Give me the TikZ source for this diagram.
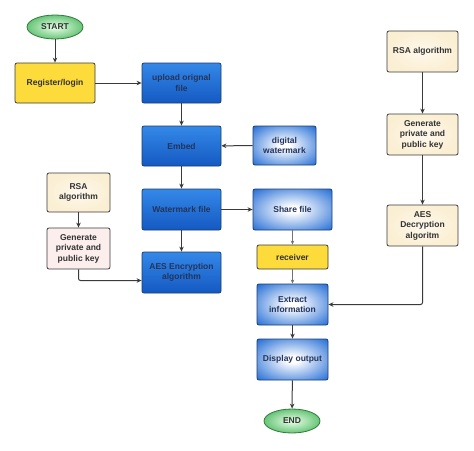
\documentclass[tikz,border=0pt]{standalone}
\usepackage{fontspec}
\setmainfont{Liberation Sans}
\usepackage{tikz}
\usetikzlibrary{shapes.geometric,arrows.meta}

\definecolor{bluetop}{HTML}{3488E8}
\definecolor{bluebot}{HTML}{1459C2}
\definecolor{blueedge}{HTML}{1F6AD5}
\definecolor{blueline}{HTML}{1B3C70}
\definecolor{bluetext}{HTML}{24345A}
\definecolor{yellowbox}{HTML}{FCDB3A}
\definecolor{beigebox}{HTML}{FBEFD3}
\definecolor{pinkbox}{HTML}{FCEEEC}
\definecolor{greenedge}{HTML}{68C577}
\definecolor{greenline}{HTML}{2F7A3B}
\definecolor{darkline}{HTML}{3A3A3A}

% white glow in the middle, blue at the rim
\pgfdeclareradialshading{blueglow}{\pgfpoint{0bp}{0bp}}{color(0bp)=(white); color(4bp)=(white); color(36bp)=(blueedge); color(50bp)=(blueedge)}

\tikzset{
    basebox/.style={rectangle, rounded corners=2pt, inner sep=0pt, align=center,
        font=\fontsize{8.5}{10.5}\selectfont\bfseries, line width=0.8pt},
    bluebox/.style={basebox, draw=blueline, top color=bluetop, bottom color=bluebot, text=bluetext},
    glowbox/.style={basebox, draw=blueline, shading=blueglow, text=bluetext},
    yellowbox/.style={basebox, draw=darkline, fill=yellowbox, text=black!80},
    beigebox/.style={basebox, draw=darkline, inner color=white!60!beigebox, outer color=beigebox, text=black!80},
    pinkbox/.style={basebox, draw=darkline, fill=pinkbox, text=black!80},
    terminal/.style={ellipse, inner sep=0pt, minimum width=56, minimum height=24, draw=greenline,
        line width=0.8pt, inner color=green!8, outer color=greenedge,
        font=\fontsize{8.5}{10.5}\selectfont\bfseries, text=black!80},
    flow/.style={-{Stealth[length=5pt,width=4.5pt]}, line width=1pt, draw=darkline},
    thinflow/.style={-{Stealth[length=4pt,width=3.5pt]}, line width=0.6pt, draw=black!55}
}

\begin{document}
\begin{tikzpicture}[x=1pt,y=-1pt]
    \useasboundingbox (0,0) rectangle (474,450);

    % Start and login
    \node[terminal] (start) at (55,27) {START};
    \node[yellowbox, minimum width=80, minimum height=40] (reg) at (55,83) {Register/login};

    % Middle column (sender side)
    \node[bluebox, minimum width=79, minimum height=40] (upload) at (181.5,83) {upload orignal\\file};
    \node[bluebox, minimum width=79, minimum height=40] (embed) at (181.5,146) {Embed};
    \node[bluebox, minimum width=79, minimum height=41] (wmfile) at (181.5,209.5) {Watermark file};
    \node[bluebox, minimum width=79, minimum height=41] (aesenc) at (181.5,272.5) {AES Encryption\\algorithm};
    \node[glowbox, minimum width=63, minimum height=39] (dwm) at (284.5,145.5) {digital\\watermark};

    % Left keys
    \node[beigebox, minimum width=63, minimum height=39] (lrsa) at (78.5,192.5) {RSA\\algorithm};
    \node[pinkbox, minimum width=63, minimum height=41] (lgen) at (78.5,248.5) {Generate\\private and\\public key};

    % Receiver side
    \node[glowbox, minimum width=79, minimum height=41] (share) at (292.5,209.5) {Share file};
    \node[yellowbox, minimum width=71, minimum height=24] (recv) at (292.5,257) {receiver};
    \node[glowbox, minimum width=71, minimum height=41] (extract) at (292.5,304.5) {Extract\\information};
    \node[glowbox, minimum width=71, minimum height=41] (display) at (292.5,359.5) {Display output};
    \node[terminal] (finish) at (292,421) {END};

    % Right keys
    \node[beigebox, minimum width=71, minimum height=41] (rrsa) at (422.5,51.5) {RSA algorithm};
    \node[beigebox, minimum width=71, minimum height=41] (rgen) at (422.5,134.5) {Generate\\private and\\public key};
    \node[beigebox, minimum width=71, minimum height=41] (aesdec) at (422.5,225.5) {AES\\Decryption\\algoritm};

    % Draw arrows
    \draw[flow] (start) -- (reg);
    \draw[flow] (reg) -- (upload);
    \draw[flow] (upload) -- (embed);
    \draw[flow] (dwm) -- (embed);
    \draw[flow] (embed) -- (wmfile);
    \draw[flow] (wmfile) -- (share);
    \draw[flow] (wmfile) -- (aesenc);
    \draw[flow] (lrsa) -- (lgen);
    \draw[flow, rounded corners=2pt] (lgen.south) |- ([yshift=-8pt]aesenc.west); % key to encryption
    \draw[thinflow] (share) -- (recv);
    \draw[thinflow] (recv) -- (extract);
    \draw[flow] (extract) -- (display);
    \draw[flow] (display) -- (finish);
    \draw[flow] (rrsa) -- (rgen);
    \draw[flow] (rgen) -- (aesdec);
    \draw[flow, rounded corners=2pt] (aesdec.south) |- (extract.east); % decryption to extract
\end{tikzpicture}
\end{document}
